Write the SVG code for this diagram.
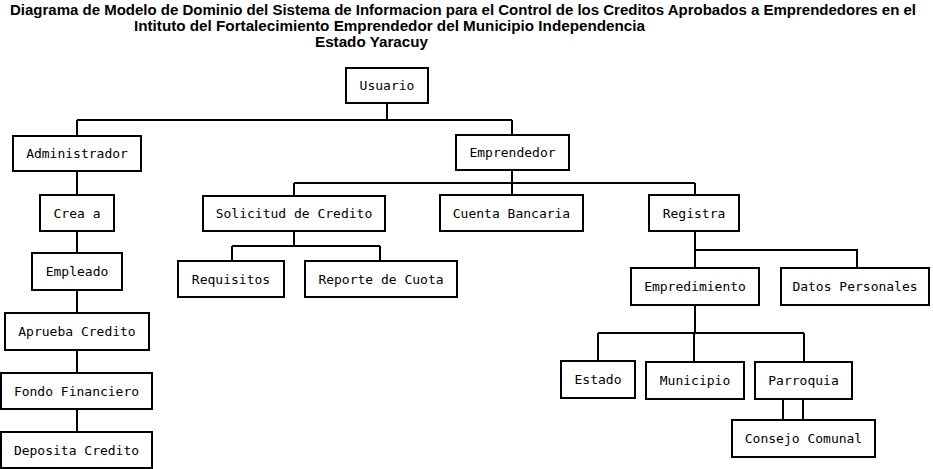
<svg xmlns="http://www.w3.org/2000/svg" width="933" height="469" viewBox="0 0 933 469">
<style>
.t{font-family:"Liberation Sans",Arial,sans-serif;font-weight:bold;font-size:14px;fill:#000}
.n rect{fill:#fff;stroke:#000;stroke-width:2}
.n text{font-family:"DejaVu Sans Mono",monospace;font-size:13px;fill:#000;text-anchor:middle;dominant-baseline:central}
#connectors path{fill:none;stroke:#000;stroke-width:2}
</style>
<rect width="933" height="469" fill="#fff"/>
<g id="title">
<text class="t" x="10" y="15" textLength="906" lengthAdjust="spacingAndGlyphs">Diagrama de Modelo de Dominio del Sistema de Informacion para el Control de los Creditos Aprobados a Emprendedores en el</text>
<text class="t" x="134" y="31" textLength="511" lengthAdjust="spacingAndGlyphs">Intituto del Fortalecimiento Emprendedor del Municipio Independencia</text>
<text class="t" x="315" y="47" textLength="113" lengthAdjust="spacingAndGlyphs">Estado Yaracuy</text>
</g>
<g id="connectors">
<path d="M387 104V120M77 120H512M77 120V136M512 120V135"/>
<path d="M77 172V195M77 232V253M77 290V313M77 350V373M77 409V432"/>
<path d="M512 171V195M294 183H695M294 183V196M695 183V195"/>
<path d="M294 232V246M232 246H380M232 246V261M380 246V261"/>
<path d="M695 232V268M695 250H857V268"/>
<path d="M695 305V333M598 333H804M598 333V361M694 333V362M804 333V362"/>
<path d="M783 399V420M803 399V420"/>
</g>
<g id="usuario" class="n"><rect x="346" y="68" width="82" height="35"/><text x="387" y="85.5">Usuario</text></g>
<g id="administrador" class="n"><rect x="13" y="136" width="128" height="35"/><text x="77" y="153.5">Administrador</text></g>
<g id="emprendedor" class="n"><rect x="456" y="135" width="113" height="35"/><text x="512.5" y="152.5">Emprendedor</text></g>
<g id="crea-a" class="n"><rect x="40" y="195" width="74" height="36"/><text x="77" y="213">Crea a</text></g>
<g id="solicitud" class="n"><rect x="203" y="196" width="182" height="35"/><text x="294" y="213.5">Solicitud de Credito</text></g>
<g id="cuenta" class="n"><rect x="440" y="195" width="143" height="36"/><text x="511.5" y="213">Cuenta Bancaria</text></g>
<g id="registra" class="n"><rect x="649" y="195" width="90" height="36"/><text x="694" y="213">Registra</text></g>
<g id="empleado" class="n"><rect x="32" y="253" width="90" height="37"/><text x="77" y="271.5">Empleado</text></g>
<g id="requisitos" class="n"><rect x="178" y="261" width="106" height="36"/><text x="231" y="279">Requisitos</text></g>
<g id="reporte" class="n"><rect x="305" y="261" width="152" height="36"/><text x="381" y="279">Reporte de Cuota</text></g>
<g id="empredimiento" class="n"><rect x="631" y="268" width="128" height="37"/><text x="695" y="286.5">Empredimiento</text></g>
<g id="datos" class="n"><rect x="781" y="268" width="148" height="37"/><text x="855" y="286.5">Datos Personales</text></g>
<g id="aprueba" class="n"><rect x="5" y="313" width="144" height="37"/><text x="77" y="331.5">Aprueba Credito</text></g>
<g id="fondo" class="n"><rect x="1" y="373" width="151" height="36"/><text x="76.5" y="391">Fondo Financiero</text></g>
<g id="deposita" class="n"><rect x="1" y="432" width="151" height="36"/><text x="76.5" y="450">Deposita Credito</text></g>
<g id="estado" class="n"><rect x="561" y="361" width="74" height="37"/><text x="598" y="379.5">Estado</text></g>
<g id="municipio" class="n"><rect x="646" y="362" width="98" height="37"/><text x="695" y="380.5">Municipio</text></g>
<g id="parroquia" class="n"><rect x="755" y="362" width="97" height="37"/><text x="803.5" y="380.5">Parroquia</text></g>
<g id="consejo" class="n"><rect x="732" y="420" width="143" height="37"/><text x="803.5" y="438.5">Consejo Comunal</text></g>
</svg>
